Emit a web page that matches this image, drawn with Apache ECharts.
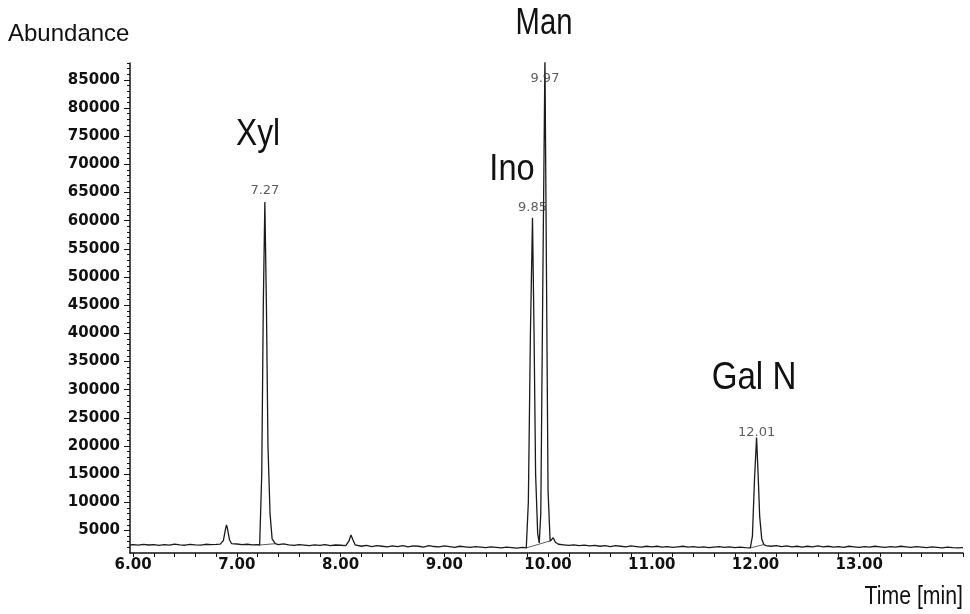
<!DOCTYPE html>
<html>
<head>
<meta charset="utf-8">
<script src="https://cdn.jsdelivr.net/npm/echarts@6.0.0/dist/echarts.min.js"></script>
<style>
  html, body { margin: 0; background: #fff; }
  #chart { width: 970px; height: 614px; }
</style>
</head>
<body>
<div id="chart"></div>
<script>
// retention time (min) and abundance
const times = [
  5.97, 6.00, 6.05, 6.10, 6.15, 6.20, 6.25, 6.30, 6.35, 6.40, 6.45, 6.50, 6.55, 6.60, 6.65, 6.70, 6.75, 6.80, 6.84,
  6.87, 6.89, 6.90, 6.91, 6.93, 6.95, 7.00, 7.05, 7.10, 7.15, 7.20, 7.22,
  7.24, 7.255, 7.27, 7.285, 7.30, 7.32, 7.34, 7.37,
  7.40, 7.45, 7.50, 7.55, 7.60, 7.65, 7.70, 7.75, 7.80, 7.85, 7.90, 7.95, 8.00, 8.05, 8.08, 8.10, 8.12, 8.14,
  8.20, 8.25, 8.30, 8.35, 8.40, 8.45, 8.50, 8.55, 8.60, 8.65, 8.70, 8.75, 8.80, 8.85, 8.90, 8.95, 9.00, 9.05, 9.10,
  9.15, 9.20, 9.25, 9.30, 9.35, 9.40, 9.45, 9.50, 9.55, 9.60, 9.65, 9.70, 9.75, 9.79,
  9.81, 9.83, 9.85, 9.865, 9.88, 9.90, 9.915, 9.93, 9.95, 9.97, 9.985, 10.00, 10.02, 10.05, 10.07, 10.10,
  10.15, 10.20, 10.25, 10.30, 10.35, 10.40, 10.45, 10.50, 10.55, 10.60, 10.65, 10.70, 10.75, 10.80, 10.85, 10.90,
  10.95, 11.00, 11.05, 11.10, 11.15, 11.20, 11.25, 11.30, 11.35, 11.40, 11.45, 11.50, 11.55, 11.60, 11.65, 11.70,
  11.75, 11.80, 11.85, 11.90, 11.95,
  11.97, 11.99, 12.01, 12.025, 12.04, 12.06, 12.08,
  12.10, 12.15, 12.20, 12.25, 12.30, 12.35, 12.40, 12.45, 12.50, 12.55, 12.60, 12.65, 12.70, 12.75, 12.80, 12.85,
  12.90, 12.95, 13.00, 13.05, 13.10, 13.15, 13.20, 13.25, 13.30, 13.35, 13.40, 13.45, 13.50, 13.55, 13.60, 13.65,
  13.70, 13.75, 13.80, 13.85, 13.90, 13.95, 14.00
];
const abundance = [
  2450, 2500, 2380, 2550, 2420, 2500, 2350, 2480, 2400, 2560, 2430, 2380, 2520, 2450, 2400, 2550, 2470, 2520, 2580,
  3200, 5200, 6000, 5300, 3300, 2650, 2600, 2480, 2550, 2450, 2500, 2420,
  15000, 45000, 63300, 45000, 20000, 8000, 3500, 2650,
  2500, 2620, 2450, 2350, 2500, 2400, 2300, 2450, 2350, 2500, 2300, 2420, 2380, 2300, 3100, 4200, 3300, 2450,
  2200, 2350, 2150, 2300, 2200, 2100, 2250, 2150, 2300, 2100, 2250, 2200, 2050, 2300, 2150, 2100, 2250, 2150, 2000,
  2200, 2100, 2000, 2150, 2050, 1950, 2100, 2000, 1900, 2050, 1950, 1850, 2000, 1900,
  10000, 40000, 60500, 40000, 15000, 4500, 2800, 8000, 50000, 89000, 50000, 12000, 3100, 3700, 2900, 2550,
  2450, 2350, 2450, 2300, 2400, 2250, 2350, 2200, 2300, 2150, 2300, 2200, 2100, 2250, 2150, 2050,
  2200, 2100, 2200, 2050, 2150, 2000, 2100, 2200, 2050, 2150, 2000, 2100, 1950, 2050, 2150, 2000,
  2100, 1950, 2050, 1950, 1900,
  4000, 14000, 21500, 15000, 7500, 3500, 2500,
  2300, 2200, 2300, 2150, 2250, 2100, 2200, 2050, 2200, 2100, 2250, 2100, 2200, 2050, 2150, 2000,
  2200, 2100, 2000, 2150, 2050, 2200, 2100, 2000, 2150, 2050, 2200, 2100, 2000, 2150, 2050, 1950,
  2100, 2000, 1900, 2050, 1950, 1900, 1950
];

// integrator baselines drawn under the peaks
const integStart = [[7.22, 2420], [9.79, 1900], [11.95, 1900]];
const integEnd = [[7.37, 2650], [10.03, 3200], [12.08, 2500]];

// retention time labels at the peak tops
const peakTimes = [7.27, 9.85, 9.97, 12.01];
const peakLabelLevels = [65300, 62400, 85300, 22300];

// compound names
const compounds = ['Man', 'Xyl', 'Ino', 'Gal N'];

const xTickLabels = [6, 7, 8, 9, 10, 11, 12, 13];
const yTickLabels = [5000, 10000, 15000, 20000, 25000, 30000, 35000, 40000, 45000,
  50000, 55000, 60000, 65000, 70000, 75000, 80000, 85000];

const xMinorTicks = [];
for (let i = 30; i <= 70; i++) xMinorTicks.push(i / 5);
const yMinorTicks = [];
for (let v = 2000; v <= 88000; v += 1000) yMinorTicks.push(v);

const traceData = times.map((t, i) => [t, abundance[i]]);

const tickFont = { fontFamily: 'DejaVu Sans', fontWeight: 'bold', fontSize: 15, color: '#111' };
const nameFont = 'Liberation Sans, Arial';

function nameText(text, x, y, size, sx, align) {
  return {
    type: 'text',
    x: x,
    y: y,
    scaleX: sx,
    style: { text: text, font: size + 'px ' + nameFont, fill: '#111', align: align || 'center', verticalAlign: 'middle' },
  };
}

var chart = echarts.init(document.getElementById('chart'));
var option = {
  animation: false,
  backgroundColor: '#fff',
  grid: { left: 130, right: 7, top: 63, bottom: 61, outerBoundsMode: 'none' },
  xAxis: {
    type: 'value',
    min: 5.97,
    max: 14.0,
    axisLine: { lineStyle: { color: '#111', width: 1.5 } },
    axisTick: { customValues: xMinorTicks, length: 4, lineStyle: { color: '#111' } },
    axisLabel: Object.assign({
      customValues: xTickLabels,
      margin: 5,
      formatter: (v) => v.toFixed(2),
    }, tickFont),
    splitLine: { show: false },
  },
  yAxis: [
    {
      type: 'value',
      min: 1000,
      max: 88000,
      axisLine: { show: true, lineStyle: { color: '#111', width: 1.5 } },
      axisTick: { customValues: yTickLabels, length: 6, lineStyle: { color: '#111' } },
      axisLabel: Object.assign({ customValues: yTickLabels, margin: 10, formatter: (v) => String(v) }, tickFont),
      splitLine: { show: false },
    },
    {
      type: 'value',
      min: 1000,
      max: 88000,
      position: 'left',
      axisLine: { show: false },
      axisTick: { customValues: yMinorTicks, length: 3, lineStyle: { color: '#111' } },
      axisLabel: { show: false },
      splitLine: { show: false },
    },
  ],
  series: [
    {
      type: 'line',
      data: traceData,
      showSymbol: false,
      lineStyle: { color: '#1a1a1a', width: 1.3 },
      clip: true,
      z: 3,
    },
    ...integStart.map((p, i) => ({
      type: 'line',
      data: [p, integEnd[i]],
      showSymbol: false,
      lineStyle: { color: '#333', width: 0.8 },
      z: 2,
    })),
    {
      type: 'scatter',
      symbolSize: 0,
      data: peakTimes.map((t, i) => [t, peakLabelLevels[i]]),
      label: {
        show: true,
        position: [0, 0],
        align: 'center',
        verticalAlign: 'middle',
        formatter: (p) => p.value[0].toFixed(2),
        fontFamily: 'DejaVu Sans',
        fontSize: 13,
        color: '#333',
      },
      z: 4,
    },
  ],
  graphic: [
    { type: 'text', left: 8, top: 22, style: { text: 'Abundance', font: '24px ' + nameFont, fill: '#111' } },
    nameText(compounds[0], 544, 24, 37, 0.79),
    nameText(compounds[1], 258, 135, 36, 0.88),
    nameText(compounds[2], 512, 170, 37, 0.88),
    nameText(compounds[3], 754, 378, 39, 0.85),
    nameText('Time [min]', 963, 597, 25, 0.85, 'right'),
  ],
};
chart.setOption(option);
</script>
</body>
</html>
